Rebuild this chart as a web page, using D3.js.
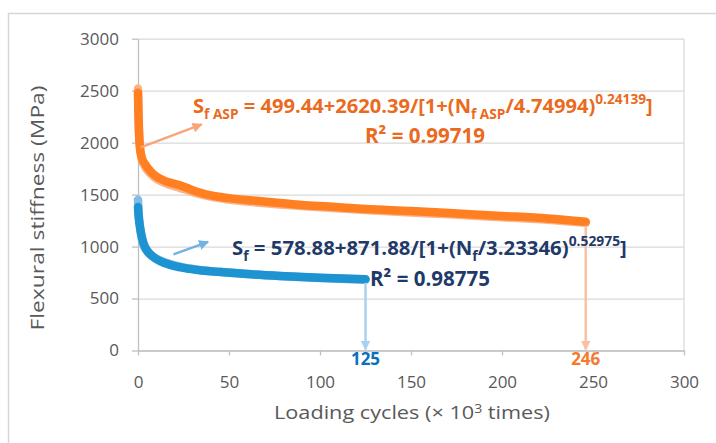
<!DOCTYPE html>
<html>
<head>
<meta charset="utf-8">
<script src="https://cdn.jsdelivr.net/npm/d3@7"></script>
<style>
  html, body { margin: 0; padding: 0; background: #fff; }
  svg { display: block; font-family: "Open Sans", "Noto Sans", sans-serif; }
</style>
</head>
<body>
<svg id="chart" width="716" height="443"></svg>
<script>
// Flexural stiffness vs loading cycles (x 10^3), asphalt with and without ASP
const xTicks = [0, 50, 100, 150, 200, 250, 300];
const yTicks = [0, 500, 1000, 1500, 2000, 2500, 3000];

// ASP mixture: measured stiffness
const aspCycles = [0, 0.3, 1, 2, 4, 7, 10, 15, 23, 32, 40, 50, 65, 78, 90, 105, 125, 150, 171, 200, 225, 246];
const aspStiff  = [2480, 2250, 1960, 1860, 1790, 1720, 1675, 1630, 1590, 1530, 1492, 1466, 1440, 1420, 1400, 1385, 1362, 1342, 1322, 1295, 1270, 1238];
// ASP mixture: fitted curve
const aspFitCycles = [0, 0.3, 1, 2, 4, 7, 10, 15, 23, 32, 40, 50, 65, 78, 90, 105, 125, 150, 171, 200, 225, 246];
const aspFitStiff  = [2520, 2230, 1980, 1850, 1765, 1700, 1655, 1610, 1565, 1515, 1480, 1452, 1425, 1405, 1390, 1373, 1352, 1328, 1310, 1282, 1258, 1228];

// Control mixture: measured stiffness
const ctlCycles = [0, 0.3, 1, 2, 3, 5, 8, 12, 18, 25, 35, 45, 60, 78, 100, 125];
const ctlStiff  = [1380, 1300, 1200, 1100, 1035, 962, 905, 860, 822, 795, 770, 755, 735, 717, 700, 686];
// Control mixture: fitted curve
const ctlFitCycles = [0, 0.3, 1, 2, 3, 5, 8, 12, 18, 25, 35, 45, 60, 78, 100, 125];
const ctlFitStiff  = [1450, 1340, 1200, 1085, 1015, 955, 905, 868, 830, 800, 773, 757, 736, 716, 697, 680];

// Fatigue life markers
const lifeValues = [125, 246];
const lifeLabels = ["125", "246"];
const lifeStarts = [690, 1238];

const svg = d3.select("#chart");
const x = d3.scaleLinear().domain([0, 300]).range([138, 684]);
const y = d3.scaleLinear().domain([0, 3000]).range([350.5, 38.7]);

// outer frame
svg.append("rect").attr("x", 8.5).attr("y", 13.5).attr("width", 760).attr("height", 460)
  .attr("fill", "none").attr("stroke", "#d6d6d6").attr("stroke-width", 1.5);

// horizontal gridlines
const grid = svg.append("g").attr("transform", `translate(${x(0)},0)`)
  .call(d3.axisLeft(y).tickValues(yTicks).tickSize(-(x(300) - x(0))).tickFormat(""));
grid.select(".domain").remove();
grid.selectAll("line").attr("stroke", "#d9d9d9").attr("stroke-width", 1.2);
svg.append("line").attr("x1", x(300)).attr("x2", x(300)).attr("y1", y(3000)).attr("y2", y(0))
  .attr("stroke", "#d9d9d9").attr("stroke-width", 1.2);

const fmt = d3.format("d");
// y axis
const yAxis = svg.append("g").attr("transform", `translate(${x(0)},0)`)
  .call(d3.axisLeft(y).tickValues(yTicks).tickFormat(fmt).tickSize(6).tickPadding(13).tickSizeOuter(0));
yAxis.select(".domain").attr("stroke", "#bfbfbf").attr("stroke-width", 1.3);
yAxis.selectAll("line").attr("stroke", "#bfbfbf").attr("stroke-width", 1.3);
yAxis.selectAll("text").attr("fill", "#595959").style("font-size", "17px")
  .style("font-family", '"Open Sans", sans-serif');

// x axis
const xAxis = svg.append("g").attr("transform", `translate(0,${y(0)})`)
  .call(d3.axisBottom(x).tickValues(xTicks).tickFormat(fmt).tickSize(5).tickPadding(20).tickSizeOuter(0));
xAxis.select(".domain").attr("stroke", "#bfbfbf").attr("stroke-width", 1.3);
xAxis.selectAll("line").attr("stroke", "#bfbfbf").attr("stroke-width", 1.3);
xAxis.selectAll("text").attr("fill", "#595959").style("font-size", "17px")
  .style("font-family", '"Open Sans", sans-serif');

// axis titles
svg.append("text").attr("transform", "translate(44,208) rotate(-90)")
  .attr("text-anchor", "middle").attr("fill", "#595959").style("font-size", "19px")
  .attr("textLength", 245).attr("lengthAdjust", "spacingAndGlyphs")
  .text("Flexural stiffness (MPa)");
const xt = svg.append("text").attr("x", 412).attr("y", 419).attr("text-anchor", "middle")
  .attr("fill", "#595959").style("font-size", "19px")
  .attr("textLength", 276).attr("lengthAdjust", "spacingAndGlyphs");
xt.append("tspan").text("Loading cycles (× 10");
xt.append("tspan").attr("dy", "-0.45em").style("font-size", "0.65em").text("3");
xt.append("tspan").attr("dy", "0.3em").text(" times)");

// curves
const line = d3.line().curve(d3.curveMonotoneX);
function drawCurve(xs, ys, color, width) {
  svg.append("path")
    .attr("d", line(xs.map((c, i) => [x(c), y(ys[i])])))
    .attr("fill", "none").attr("stroke", color).attr("stroke-width", width)
    .attr("stroke-linecap", "round").attr("stroke-linejoin", "round");
}
drawCurve(aspFitCycles, aspFitStiff, "#f9b48a", 8.5);
drawCurve(aspCycles, aspStiff, "#ff7f21", 8.5);
drawCurve(ctlFitCycles, ctlFitStiff, "#7fbde6", 8.5);
drawCurve(ctlCycles, ctlStiff, "#1d93d2", 8.5);

// arrow heads
const defs = svg.append("defs");
function marker(id, color) {
  defs.append("marker").attr("id", id).attr("viewBox", "0 0 10 10")
    .attr("refX", 9).attr("refY", 5).attr("markerWidth", 4).attr("markerHeight", 4)
    .attr("markerUnits", "strokeWidth").attr("orient", "auto")
    .append("path").attr("d", "M0,0 L10,5 L0,10 Z").attr("fill", color);
}
marker("arrOrange", "#f8a678");
marker("arrBlue", "#6fb4e2");
marker("arrOrangeV", "#f9c1a0");
marker("arrBlueV", "#a8d1ef");

function arrow(x1, y1, x2, y2, color, id, w) {
  svg.append("line").attr("x1", x1).attr("y1", y1).attr("x2", x2).attr("y2", y2)
    .attr("stroke", color).attr("stroke-width", w).attr("marker-end", `url(#${id})`);
}
// pointers from curves to equations
arrow(x(1.5), y(1955), x(35), y(2175), "#f8a678", "arrOrange", 2.5);
arrow(x(19.5), y(925), x(38.5), y(1045), "#6fb4e2", "arrBlue", 2.5);
// fatigue life pointers
lifeValues.forEach((v, i) => {
  const col = i === 0 ? "#a8d1ef" : "#f9c1a0";
  arrow(x(v), y(lifeStarts[i]) + 4, x(v), y(0) - 1, col, i === 0 ? "arrBlueV" : "arrOrangeV", 2.5);
});
svg.selectAll("text.life").data(lifeValues).join("text").attr("class", "life")
  .attr("x", d => x(d)).attr("y", 365).attr("text-anchor", "middle")
  .attr("fill", (d, i) => i === 0 ? "#0a70bf" : "#f57a2b")
  .style("font-size", "17px").style("font-weight", "bold")
  .style("font-family", '"Noto Sans", sans-serif')
  .text((d, i) => lifeLabels[i]);

// equation text: parts are [text, kind] with kind "", "sub" or "sup"
function equation(xp, yp, parts, color, targetWidth, anchor) {
  const t = svg.append("text").attr("x", xp).attr("y", yp).attr("fill", color)
    .attr("text-anchor", anchor || "start")
    .style("font-size", "16px").style("font-weight", "bold")
    .style("font-family", '"Open Sans", sans-serif');
  let shift = 0;
  parts.forEach(([s, k]) => {
    const target = k === "sub" ? 0.3 : k === "sup" ? -0.45 : 0;
    const ts = t.append("tspan").attr("dy", (target - shift) + "em").text(s);
    if (k) ts.style("font-size", "0.68em").attr("dy", ((target - shift) / 0.68) + "em");
    shift = target;
  });
  if (targetWidth) {
    const w = t.node().getBBox().width;
    t.style("font-size", (16 * targetWidth / w) + "px");
  }
  return t;
}
const orange = "#ea6a1e", navy = "#1f3a68";
equation(193, 113, [["S", ""], ["f ASP", "sub"], [" = 499.44+2620.39/[1+(N", ""], ["f ASP", "sub"],
  ["/4.74994)", ""], ["0.24139", "sup"], ["]", ""]], orange, 460);
equation(425, 143, [["R² = 0.99719", ""]], orange, 120, "middle");
equation(232, 255, [["S", ""], ["f", "sub"], [" = 578.88+871.88/[1+(N", ""], ["f", "sub"],
  ["/3.23346)", ""], ["0.52975", "sup"], ["]", ""]], navy, 395);
equation(370, 286, [["R² = 0.98775", ""]], navy, 120);
</script>
</body>
</html>
